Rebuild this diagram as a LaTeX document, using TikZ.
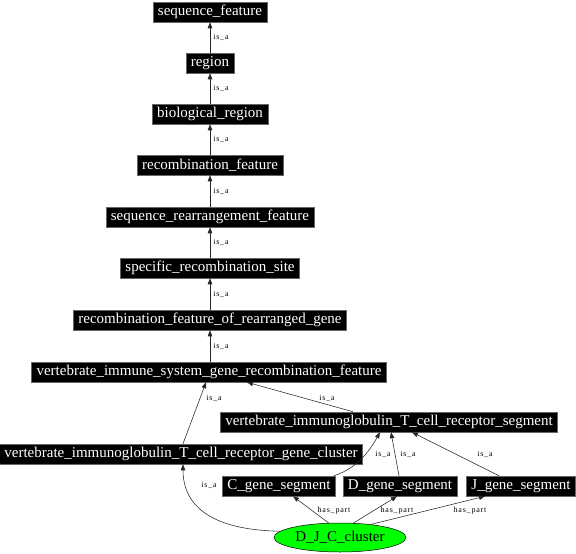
\documentclass[tikz,border=0pt]{standalone}
\usepackage{fontspec}
\setmainfont{Liberation Serif}
\newfontfamily\lblfont[LetterSpace=10]{Liberation Serif}
\usetikzlibrary{shapes.geometric,arrows.meta}
\begin{document}
\begin{tikzpicture}[x=1pt,y=-1pt,
  box/.style={fill=black, draw=black!60, line width=0.5pt, text=white,
    font=\fontsize{15}{15}\selectfont, inner xsep=5pt, inner ysep=0pt,
    minimum height=20pt},
  oval/.style={ellipse, fill=green, draw=black, line width=0.5pt, text=black,
    font=\fontsize{15}{15}\selectfont, inner sep=0pt, minimum width=132pt,
    minimum height=29pt},
  edge/.style={draw=black!85, line width=0.55pt, -{Triangle[length=6pt,width=4.5pt]}},
  lbl/.style={font=\lblfont\fontsize{8}{8}\selectfont, inner sep=0pt, text=black},
  lblr/.style={lbl, anchor=west, xshift=3pt}
]
\useasboundingbox (0,0) rectangle (576,554);

\node[box] (sf) at (210,12) {sequence\_feature};
\node[box] (region) at (210,63) {region};
\node[box] (bio) at (210,114) {biological\_region};
\node[box] (recf) at (210,165) {recombination\_feature};
\node[box] (srf) at (210,217) {sequence\_rearrangement\_feature};
\node[box] (srs) at (210,268) {specific\_recombination\_site};
\node[box] (rfrg) at (210,320) {recombination\_feature\_of\_rearranged\_gene};
\node[box] (vis) at (209,372) {vertebrate\_immune\_system\_gene\_recombination\_feature};
\node[box] (seg) at (389,422) {vertebrate\_immunoglobulin\_T\_cell\_receptor\_segment};
\node[box] (gc) at (181,454) {vertebrate\_immunoglobulin\_T\_cell\_receptor\_gene\_cluster};
\node[box] (cgs) at (279,486) {C\_gene\_segment};
\node[box] (dgs) at (400,486) {D\_gene\_segment};
\node[box] (jgs) at (521,486) {J\_gene\_segment};
\node[oval] (djc) at (340,537.5) {D\_J\_C\_cluster};

\draw[edge] (region) -- node[lblr] {is\_a} (sf);
\draw[edge] (bio) -- node[lblr] {is\_a} (region);
\draw[edge] (recf) -- node[lblr] {is\_a} (bio);
\draw[edge] (srf) -- node[lblr] {is\_a} (recf);
\draw[edge] (srs) -- node[lblr] {is\_a} (srf);
\draw[edge] (rfrg) -- node[lblr] {is\_a} (srs);
\draw[edge] (rfrg.south |- vis.north) -- node[lblr] {is\_a} (rfrg);

\draw[edge] ([xshift=2pt]gc.north) -- ([xshift=-3pt]vis.south)
  node[lbl] at (214,398) {is\_a};
\draw[edge] ([xshift=-36pt]seg.north) -- ([xshift=38pt]vis.south)
  node[lbl] at (327,398) {is\_a};

\draw[edge] ([xshift=-2pt]cgs.north east) .. controls (358,468) and (370,450) .. ([xshift=-9pt]seg.south)
  node[lbl] at (383,454) {is\_a};
\draw[edge] ([xshift=-1pt]dgs.north) -- ([xshift=2pt]seg.south)
  node[lbl] at (408,454) {is\_a};
\draw[edge] ([xshift=-22pt]jgs.north) -- ([xshift=23pt]seg.south)
  node[lbl] at (485,454) {is\_a};

\draw[edge] (djc.174) .. controls (210,530) and (183,505) .. ([xshift=2pt]gc.south)
  node[lbl] at (209,485) {is\_a};
\draw[edge] (djc.128) -- ([xshift=14pt]cgs.south)
  node[lbl] at (334,511) {has\_part};
\draw[edge] (djc.47) -- ([xshift=-3pt]dgs.south)
  node[lbl] at (397,511) {has\_part};
\draw[edge] (djc.23) -- ([xshift=-36pt]jgs.south)
  node[lbl] at (470,511) {has\_part};
\end{tikzpicture}
\end{document}
